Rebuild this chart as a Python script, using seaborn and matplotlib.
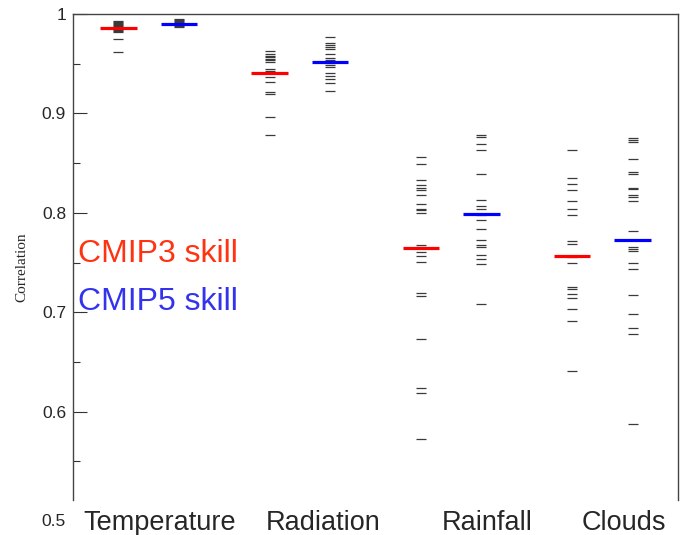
import numpy as np
import pandas as pd
import matplotlib
matplotlib.use("Agg")
import matplotlib.pyplot as plt
import matplotlib.transforms as mtransforms
import seaborn as sns

# ---------------- data ----------------
variables = ["Temperature", "Radiation", "Rainfall", "Clouds"]

temp_cmip3 = [0.993, 0.992, 0.991, 0.990, 0.989, 0.988, 0.987, 0.986, 0.985,
              0.984, 0.983, 0.982, 0.9745, 0.9614]
temp_cmip5 = [0.995, 0.994, 0.993, 0.992, 0.991, 0.990, 0.989, 0.988, 0.987]

rad_cmip3 = [0.9630, 0.9597, 0.9580, 0.9570, 0.9547, 0.9535, 0.9520, 0.9446,
             0.9426, 0.9369, 0.9318, 0.9218, 0.9194, 0.8960, 0.8781]
rad_cmip5 = [0.9765, 0.9711, 0.9688, 0.9665, 0.9645, 0.9597, 0.9554, 0.9537,
             0.9504, 0.9486, 0.9469, 0.9409, 0.9379, 0.9342, 0.9302, 0.9225]

rain_cmip3 = [0.856, 0.849, 0.833, 0.828, 0.8245, 0.823, 0.818, 0.8087, 0.804,
              0.803, 0.7993, 0.7681, 0.7657, 0.7603, 0.757, 0.7503, 0.7194,
              0.7163, 0.673, 0.624, 0.619, 0.572]
rain_cmip5 = [0.8781, 0.8758, 0.8691, 0.8630, 0.8389, 0.8127, 0.8066, 0.8043,
              0.7976, 0.7925, 0.7842, 0.7724, 0.7681, 0.7657, 0.7580, 0.7540,
              0.7489, 0.7080]

cloud_cmip3 = [0.8627, 0.8348, 0.8291, 0.8231, 0.8117, 0.8036, 0.7973, 0.7714,
               0.7691, 0.7560, 0.7492, 0.7254, 0.7231, 0.7187, 0.7143, 0.7029,
               0.6915, 0.6412]
cloud_cmip5 = [0.8748, 0.8728, 0.8708, 0.8543, 0.8412, 0.8392, 0.8245, 0.8235,
               0.8177, 0.8160, 0.8120, 0.7818, 0.7657, 0.7633, 0.7613, 0.7500,
               0.7435, 0.7170, 0.6979, 0.6841, 0.6777, 0.5878]

mean_cmip3 = [0.986, 0.9403, 0.7650, 0.7563]
mean_cmip5 = [0.990, 0.9514, 0.7986, 0.7724]

models_cmip3 = [temp_cmip3, rad_cmip3, rain_cmip3, cloud_cmip3]
models_cmip5 = [temp_cmip5, rad_cmip5, rain_cmip5, cloud_cmip5]

ytick_vals = [0.6, 0.7, 0.8, 0.9, 1.0]
ytick_labels = ["0.6", "0.7", "0.8", "0.9", "1"]

# ---------------- layout helpers ----------------
offset = {"CMIP3": -0.2, "CMIP5": 0.2}

rows = []
for i, v in enumerate(variables):
    for val in models_cmip3[i]:
        rows.append({"x": i + 0.5 + offset["CMIP3"], "corr": val, "ens": "CMIP3"})
    for val in models_cmip5[i]:
        rows.append({"x": i + 0.5 + offset["CMIP5"], "corr": val, "ens": "CMIP5"})
df_models = pd.DataFrame(rows)

mrows = []
for i, v in enumerate(variables):
    mrows.append({"x": i + 0.5 + offset["CMIP3"], "corr": mean_cmip3[i], "ens": "CMIP3"})
    mrows.append({"x": i + 0.5 + offset["CMIP5"], "corr": mean_cmip5[i], "ens": "CMIP5"})
df_means = pd.DataFrame(mrows)

sns.set_theme(style="white")
plt.rcParams["font.family"] = ["Liberation Sans", "DejaVu Sans"]

fig = plt.figure(figsize=(6.85, 5.35), dpi=100)
ax = fig.add_axes([73 / 685, 1 - 511 / 535, 605 / 685, 497 / 535])

sns.scatterplot(data=df_models, x="x", y="corr", marker="_", s=56,
                color="#3a3a3a", linewidth=0.9, ax=ax, legend=False, zorder=2)
sns.scatterplot(data=df_means, x="x", y="corr", hue="ens", marker="_", s=700,
                palette={"CMIP3": "#ff0000", "CMIP5": "#0000ff"},
                linewidth=2.3, ax=ax, legend=False, zorder=3)

ax.set_xlim(0, 4)
ax.set_ylim(0.5, 1.0)

# y axis ticks
ax.set_yticks(ytick_vals)
ax.set_yticklabels(ytick_labels, fontsize=12.5)
ax.set_yticks([0.55, 0.65, 0.75, 0.85, 0.95], minor=True)
ax.tick_params(axis="y", which="major", direction="in", length=10, width=0.8,
               color="#333333", pad=5, left=True, right=False)
ax.tick_params(axis="y", which="minor", direction="in", length=5, width=0.8,
               color="#333333", left=True, right=False)
ax.text(0, 0.5, "0.5", fontsize=12.5, ha="right", va="center",
        transform=ax.transData + mtransforms.ScaledTranslation(-5 / 72, -10 / 100, fig.dpi_scale_trans),
        clip_on=False)

# x labels
ax.set_xticks([0.575, 1.653, 2.737, 3.643])
ax.set_xticklabels(variables, fontsize=19.5)
ax.tick_params(axis="x", length=0, pad=-1)
ax.set_xlabel("")

ax.set_ylabel("Correlation", fontsize=11, family=["Liberation Serif", "DejaVu Serif"])
ax.yaxis.set_label_coords(-0.074, 0.49)

# spines
for side in ["left", "right", "top"]:
    ax.spines[side].set_visible(True)
    ax.spines[side].set_color("#444444")
    ax.spines[side].set_linewidth(1.0)
ax.spines["bottom"].set_visible(False)
ax.spines["left"].set_bounds(0.511, 1.0)
ax.spines["right"].set_bounds(0.511, 1.0)
ax.grid(False)

# legend texts
ax.text(0.033, 0.759, "CMIP3 skill", color="#ff3311", fontsize=23, ha="left", va="center")
ax.text(0.033, 0.710, "CMIP5 skill", color="#3333ee", fontsize=23, ha="left", va="center")

fig.savefig("out.png", dpi=100)
